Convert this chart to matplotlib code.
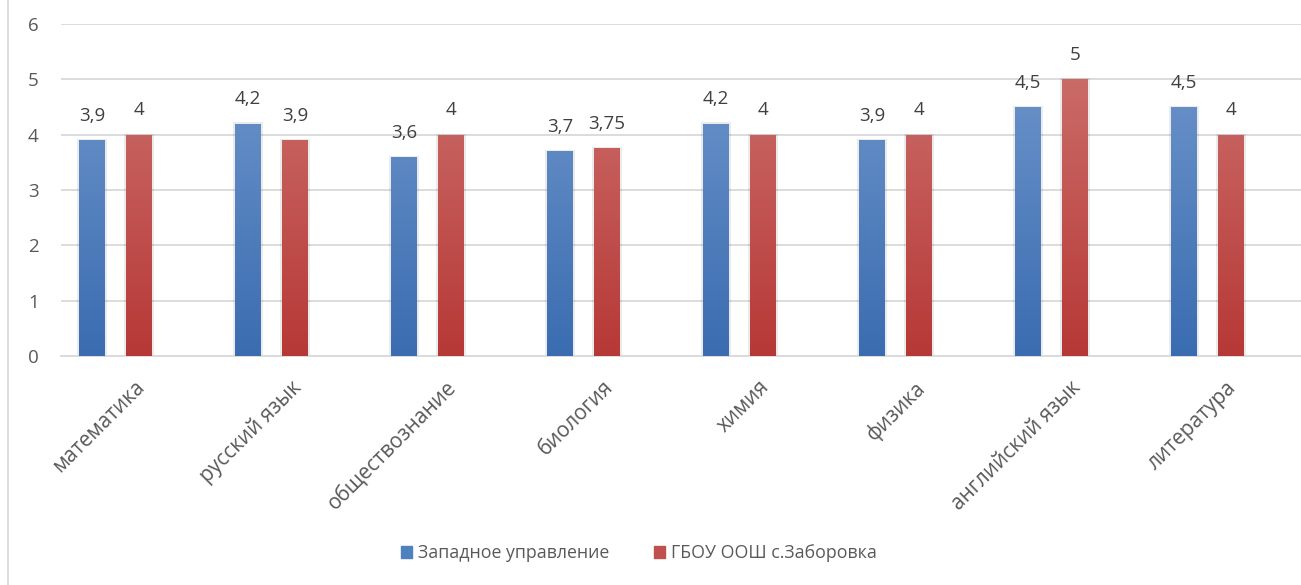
import numpy as np
import matplotlib
matplotlib.use("Agg")
import matplotlib.pyplot as plt
from matplotlib.colors import LinearSegmentedColormap
from matplotlib.lines import Line2D

subjects = ["математика", "русский язык", "обществознание", "биология",
            "химия", "физика", "английский язык", "литература"]
zapad = [3.9, 4.2, 3.6, 3.7, 4.2, 3.9, 4.5, 4.5]
school = [4, 3.9, 4, 3.75, 4, 4, 5, 4]
zapad_lbl = ["3,9", "4,2", "3,6", "3,7", "4,2", "3,9", "4,5", "4,5"]
school_lbl = ["4", "3,9", "4", "3,75", "4", "4", "5", "4"]
series_names = ["Западное управление", "ГБОУ ООШ с.Заборовка"]

plt.rcParams['font.family'] = ['Open Sans', 'DejaVu Sans']
txt = "#595959"

fig = plt.figure(figsize=(13.01, 5.85), dpi=100)
ax = fig.add_axes([61/1301, 1-356/585, 1240/1301, 332/585])

x = np.arange(len(subjects))
w = 0.167
off = 0.15
nseg = 60

blue_cm = LinearSegmentedColormap.from_list("b", ["#3A6CB0", "#6A92C9"])
red_cm = LinearSegmentedColormap.from_list("r", ["#B63836", "#CA6B68"])

def grad_bars(xs, vals, cmap):
    for xc, v in zip(xs, vals):
        # soft shadow
        ax.bar(xc, v + 0.02, w*1.16, color="#000000", alpha=0.08,
               linewidth=0, zorder=2)
        edges = np.linspace(0, v, nseg + 1)
        for i in range(nseg):
            ax.bar(xc, edges[i+1] - edges[i], w, bottom=edges[i],
                   color=cmap(edges[i] / 5.0), linewidth=0,
                   antialiased=False, zorder=3)

grad_bars(x - off, zapad, blue_cm)
grad_bars(x + off, school, red_cm)

for xi, v, s in zip(x - off, zapad, zapad_lbl):
    ax.annotate(s, (xi, v), xytext=(0, 11), textcoords="offset points",
                ha="center", va="bottom", fontsize=13.5, color="#404040")
for xi, v, s in zip(x + off, school, school_lbl):
    ax.annotate(s, (xi, v), xytext=(0, 11), textcoords="offset points",
                ha="center", va="bottom", fontsize=13.5, color="#404040")

ax.set_xlim(-0.35, 7.6)
ax.set_ylim(0, 6)
ax.set_yticks(range(7))
ax.grid(axis="y", color="#D9D9D9", linewidth=1.3, zorder=0)
ax.set_axisbelow(True)
for sp in ["top", "right", "left"]:
    ax.spines[sp].set_visible(False)
ax.spines["bottom"].set_color("#D9D9D9")
ax.spines["bottom"].set_linewidth(1.3)
ax.tick_params(axis="y", length=0, pad=16, labelsize=13.5, labelcolor=txt)
ax.tick_params(axis="x", length=0, pad=15, labelsize=15, labelcolor=txt)
ax.set_xticks(x + 0.12)
ax.set_xticklabels(subjects, rotation=45, ha="right", rotation_mode="anchor")

handles = [plt.Rectangle((0, 0), 1, 1, color="#4F81BD"),
           plt.Rectangle((0, 0), 1, 1, color="#C0504D")]
fig.legend(handles, series_names, loc="center", bbox_to_anchor=(0.491, 1-553/585),
           ncol=2, frameon=False, fontsize=12.8, labelcolor=txt,
           handlelength=0.62, handleheight=0.62, handletextpad=0.35, columnspacing=2.5)

fig.add_artist(Line2D([8/1301, 8/1301], [0, 1], color="#D9D9D9", linewidth=1.3))

fig.savefig("out.png", dpi=100, facecolor="white")
